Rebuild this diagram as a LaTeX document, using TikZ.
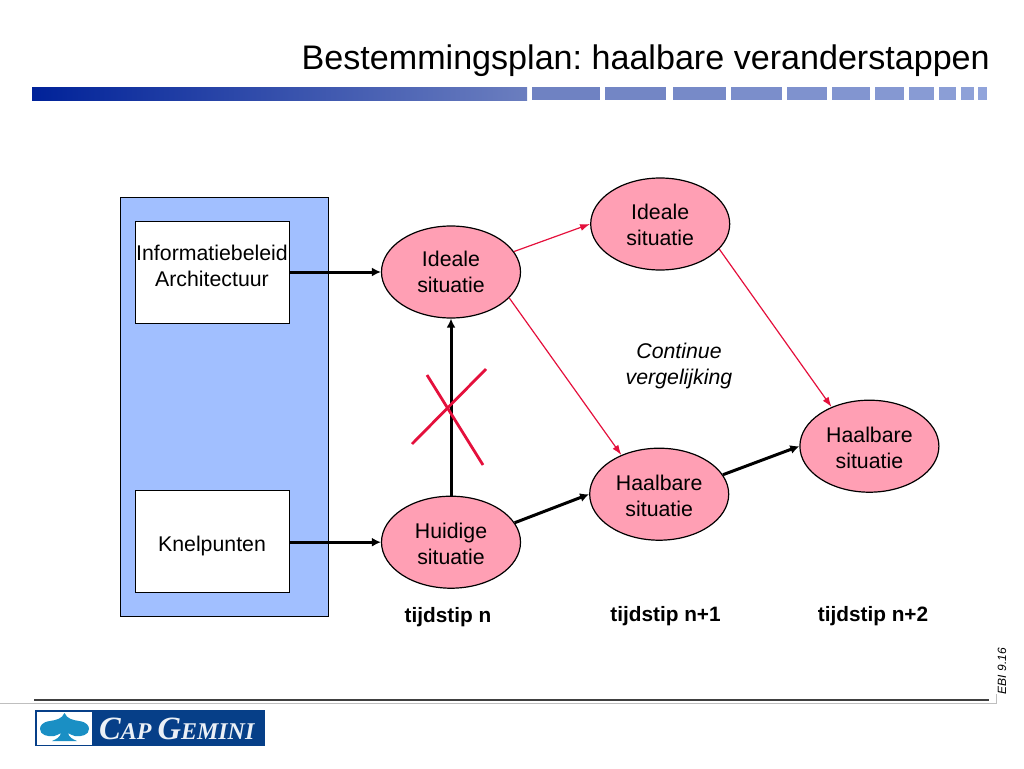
\documentclass[tikz,border=0pt]{standalone}
\usepackage{fontspec}
\setmainfont{Liberation Sans}
\newfontfamily\logofont{Liberation Serif}
\usetikzlibrary{arrows.meta,shapes.geometric,positioning}

\definecolor{barleft}{HTML}{002299}
\definecolor{barmid}{HTML}{6B7EBF}
\definecolor{barright}{HTML}{93A6DC}
\definecolor{panelblue}{HTML}{A1BFFF}
\definecolor{situpink}{HTML}{FF9FB4}
\definecolor{crossred}{HTML}{E4103C}
\definecolor{logoblue}{HTML}{063F88}
\definecolor{logocyan}{HTML}{1A8FC4}

\begin{document}
\frenchspacing
\begin{tikzpicture}[
        x=1pt, y=-1pt,
        situatie/.style={ellipse, draw, line width=1.2pt, fill=situpink, align=center, inner sep=0pt, minimum width=139pt, minimum height=92pt, font=\fontsize{21.3}{26}\selectfont},
        bron/.style={draw, line width=1pt, fill=white, align=center, inner sep=0pt, minimum width=154pt, minimum height=102pt, font=\fontsize{21.3}{25.6}\selectfont},
        tijd/.style={font=\fontsize{20.8}{24}\selectfont\bfseries},
        dik/.style={-{Latex[length=9pt,width=9pt]}, line width=3pt},
        dun/.style={-{Latex[length=10pt,width=7pt]}, crossred, line width=1.2pt},
        kruis/.style={crossred, line width=2.8pt}
    ]
    \useasboundingbox (0,0) rectangle (1024,768);

    % Title and bar
    \node (titel) [anchor=east, inner sep=0pt, font=\fontsize{34.1}{40}\selectfont] at (990,60.5) {Bestemmingsplan: haalbare veranderstappen};
    \fill[left color=barleft, right color=barmid] (32,87) rectangle (527,100);
    \foreach \xa/\xb/\pct in {532/600/90,605/666/80,673/726/70,731/782/60,787/827/50,832/870/42,875/904/35,909/934/28,939/956/20,961/974/12,978/987/5}
        \fill[barmid!\pct!barright] (\xa,87) rectangle (\xb,100);

    % Nodes
    \node (panel) [draw, line width=1pt, fill=panelblue, minimum width=208pt, minimum height=419pt, inner sep=0pt] at (224,406.5) {};
    \node (beleid) [bron] at (212,272) {Informatiebeleid\\Architectuur\\[-21pt]\strut};
    \node (knelpunten) [bron] at (212,541) {\rule{0pt}{26pt}Knelpunten};

    \node (ideaal) [situatie] at (451,272) {Ideale\\situatie};
    \node (huidig) [situatie, below=177pt of ideaal] {\rule{0pt}{19pt}Huidige\\situatie};
    \node (haalbaar) [situatie, right=68pt of huidig, yshift=48pt] {\rule{0pt}{19pt}Haalbare\\situatie};
    \node (ideaalnext) [situatie, right=69pt of ideaal, yshift=48pt] {\rule{0pt}{17pt}Ideale\\situatie};
    \node (haalbaarnext) [situatie, right=70pt of haalbaar, yshift=48pt] {\rule{0pt}{19pt}Haalbare\\situatie};

    \node (vergelijking) [align=center, font=\fontsize{21.3}{26}\selectfont\itshape] at (679,366) {Continue\\vergelijking};

    \node (tijdn) [tijd, below=15pt of huidig, xshift=-3pt] {tijdstip n};
    \node (tijdna) [tijd] at (665.5,616.5) {tijdstip n+1};
    \node (tijdnb) [tijd] at (873,616.5) {tijdstip n+2};

    % Edges
    \draw[dik] (beleid.east) -- (ideaal.west);
    \draw[dik] (knelpunten.east |- huidig.west) -- (huidig.west);
    \draw[dik] (huidig.north) -- (ideaal.south);
    \draw[dik] (huidig.17) -- (haalbaar.west);
    \draw[dik] (haalbaar.17) -- (haalbaarnext.west);
    \draw[dun] (ideaal.18) -- (ideaalnext.west);
    \draw[dun] (ideaal.-24) -- (haalbaar.134);
    \draw[dun] (ideaalnext.-23) -- (haalbaarnext.134);

    % Cross
    \coordinate (kruisa) at (427,375);
    \coordinate (kruisb) at (483,465);
    \coordinate (kruisc) at (486,369);
    \coordinate (kruisd) at (412,444);
    \draw[kruis] (kruisa) -- (kruisb);
    \draw[kruis] (kruisc) -- (kruisd);

    % Footer
    \draw[black!75, line width=1.3pt] (34,700) -- (989,700);
    \draw[black!25, line width=.8pt] (0,703.5) -- (996,703.5) -- (996,694);
    \node (ebi) [rotate=90, inner sep=0pt, font=\fontsize{12}{14}\selectfont\itshape] at (1002,671) {EBI 9.16};

    % Logo
    \fill[logoblue] (35,710) rectangle (265,746);
    \fill[white] (36.5,711.5) rectangle (92,744.5);
    \fill[logocyan] (64.5,713) .. controls (62,719) and (56,720) .. (50,721)
        .. controls (42,722) and (40,726) .. (40,729)
        .. controls (40,735) and (48,737) .. (54,736)
        .. controls (57,735.5) and (59,734) .. (61,733)
        .. controls (60,737) and (57,739) .. (52,741) -- (77,741)
        .. controls (72,739) and (69,737) .. (68,733)
        .. controls (70,734) and (72,735.5) .. (75,736)
        .. controls (81,737) and (89,735) .. (89,729)
        .. controls (89,726) and (87,722) .. (79,721)
        .. controls (73,720) and (67,719) .. (64.5,713) -- cycle;
    \node (logotekst) [anchor=base west, inner sep=0pt, text=white!92!logoblue] at (99,739.5) {\logofont\itshape\bfseries\fontsize{32.5}{33}\selectfont C\fontsize{24}{24}\selectfont AP \fontsize{32.5}{33}\selectfont G\fontsize{24}{24}\selectfont EMINI};
\end{tikzpicture}
\end{document}
